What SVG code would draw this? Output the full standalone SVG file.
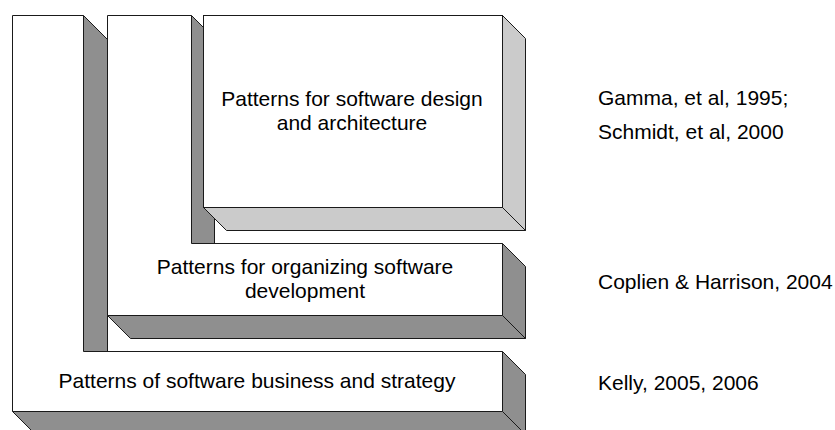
<svg xmlns="http://www.w3.org/2000/svg" width="835" height="430" viewBox="0 0 835 430">
<style>
.front{fill:#ffffff;stroke:#1a1a1a;stroke-width:1;stroke-linejoin:miter}
.side{fill:#8f8f8f;stroke:#1a1a1a;stroke-width:1}
.side-light{fill:#cbcbcb;stroke:#1a1a1a;stroke-width:1}
.lbl{font-family:"Liberation Sans",Arial,Helvetica,sans-serif;font-size:21px;fill:#000000}
.mid{text-anchor:middle}
</style>
<rect width="835" height="430" fill="#ffffff"/>
<g id="business-strategy">
<polygon class="side" points="83.5,15.5 107.5,39.5 107.5,351.5 83.5,351.5"/>
<polygon class="side" points="502.5,351.5 525.5,374.5 525.5,434.5 502.5,411.5"/>
<polygon class="side" points="12.5,411.5 502.5,411.5 525.5,434.5 35.5,434.5"/>
<polygon class="front" points="12.5,15.5 83.5,15.5 83.5,351.5 502.5,351.5 502.5,411.5 12.5,411.5"/>
<text class="lbl mid" x="257" y="388">Patterns of software business and strategy</text>
</g>
<g id="organizing-development">
<polygon class="side" points="191.5,15.5 214.5,38.5 214.5,243.5 191.5,243.5"/>
<polygon class="side" points="502.5,243.5 525.5,266.5 525.5,338.5 502.5,315.5"/>
<polygon class="side" points="107.5,315.5 502.5,315.5 525.5,338.5 130.5,338.5"/>
<polygon class="front" points="107.5,15.5 191.5,15.5 191.5,243.5 502.5,243.5 502.5,315.5 107.5,315.5"/>
<text class="lbl mid" x="305" y="274">Patterns for organizing software</text>
<text class="lbl mid" x="305" y="298">development</text>
</g>
<g id="design-architecture">
<polygon class="side-light" points="502.5,15.5 525.5,38.5 525.5,230.5 502.5,207.5"/>
<polygon class="side-light" points="203.5,207.5 502.5,207.5 525.5,230.5 226.5,230.5"/>
<rect class="front" x="203.5" y="15.5" width="299" height="192"/>
<text class="lbl mid" x="352" y="106">Patterns for software design</text>
<text class="lbl mid" x="352" y="130">and architecture</text>
</g>
<g id="references">
<text class="lbl" x="598" y="105">Gamma, et al, 1995;</text>
<text class="lbl" x="598" y="139">Schmidt, et al, 2000</text>
<text class="lbl" x="598" y="289">Coplien &amp; Harrison, 2004</text>
<text class="lbl" x="598" y="390">Kelly, 2005, 2006</text>
</g>
</svg>
